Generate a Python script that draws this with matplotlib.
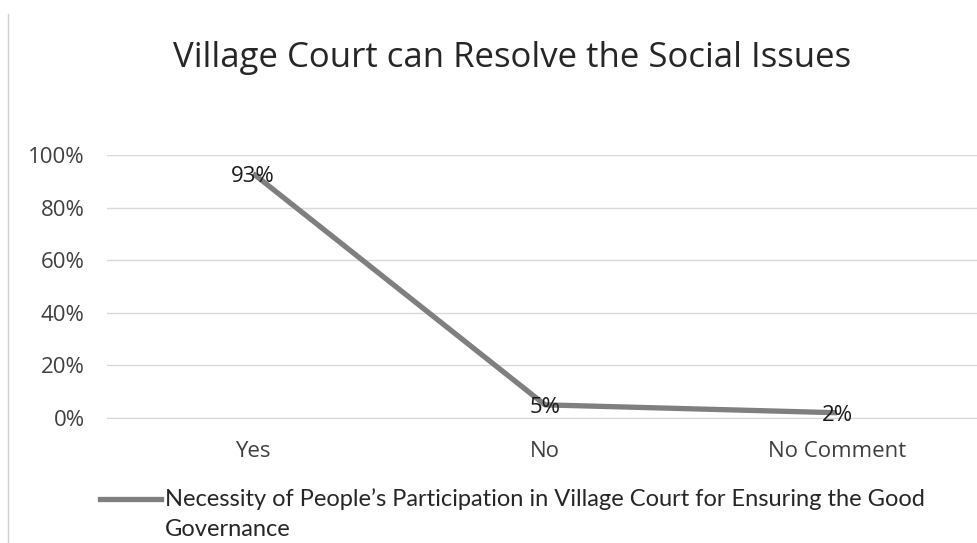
import matplotlib
matplotlib.use("Agg")
import matplotlib.pyplot as plt
from matplotlib.lines import Line2D
from matplotlib.ticker import PercentFormatter

categories = ["Yes", "No", "No Comment"]
values = [0.93, 0.05, 0.02]
labels = ["93%", "5%", "2%"]
series_name = "Necessity of People\u2019s Participation in Village Court for Ensuring the Good\nGovernance"
title = "Village Court can Resolve the Social Issues"

W, H = 977, 543
fig = plt.figure(figsize=(W / 100, H / 100), dpi=100)
fig.patch.set_facecolor("white")

ax = fig.add_axes([107 / W, 1 - 418 / H, (983 - 107) / W, (418 - 155) / H])
x = list(range(len(categories)))
ax.plot(x, values, color="#7f7f7f", lw=3.8, solid_capstyle="butt", zorder=3)
for xi, v, lab in zip(x, values, labels):
    ax.annotate(lab, (xi, v), xytext=(0, -2), textcoords="offset points",
                ha="center", va="center", fontsize=16,
                family="Open Sans", color="#1a1a1a", zorder=4)

ax.set_xlim(-0.5, 2.5)
ax.set_ylim(0, 1)
ax.set_yticks([0, 0.2, 0.4, 0.6, 0.8, 1.0])
ax.yaxis.set_major_formatter(PercentFormatter(1.0, decimals=0))
ax.set_xticks(x)
ax.set_xticklabels(categories)
ax.grid(axis="y", color="#d9d9d9", lw=1)
ax.set_axisbelow(True)
for s in ["top", "right", "left"]:
    ax.spines[s].set_visible(False)
ax.spines["bottom"].set_color("#d9d9d9")
ax.tick_params(length=0, labelsize=16, labelcolor="#404040")
for t in ax.get_xticklabels() + ax.get_yticklabels():
    t.set_family("Open Sans")
ax.tick_params(axis="y", pad=16)
ax.tick_params(axis="x", pad=16.5)

fig.text(512 / W, 1 - 58 / H, title, ha="center", va="center",
         fontsize=25, family="Open Sans", color="#262626")

# left frame line
fig.add_artist(Line2D([8 / W, 8 / W], [0, 1 - 14 / H], color="#d0d0d0", lw=1))

# legend
fig.add_artist(Line2D([100 / W, 161 / W], [1 - 499 / H, 1 - 499 / H],
                      color="#7f7f7f", lw=3.8))
fig.text(165 / W, 1 - 488 / H, series_name, ha="left", va="top",
         fontsize=17, family="Lato", color="#262626", linespacing=1.55)

fig.savefig("out.png", dpi=100)
